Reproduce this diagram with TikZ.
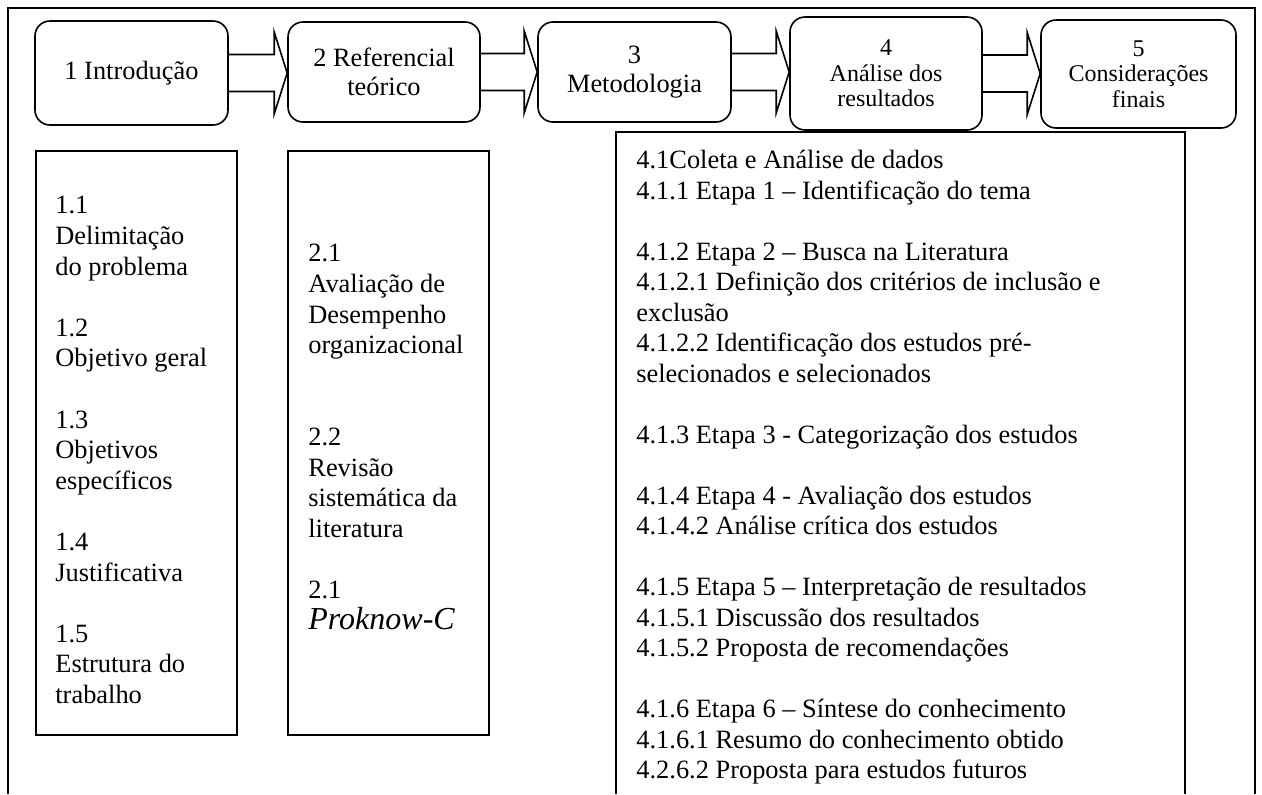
\documentclass[tikz,border=0pt]{standalone}
\usepackage{fontspec}
\setmainfont{Liberation Serif}
\usetikzlibrary{calc, positioning}

\tikzset{
  boxline/.style={line width=0.8pt, draw=black},
  stage/.style={draw, line width=0.8pt, rounded corners=7.5pt, align=center, inner sep=2pt, font=\fontsize{13.2}{14.5}\selectfont},
  stagesmall/.style={stage, font=\fontsize{12}{12.8}\selectfont},
  topicbox/.style={draw, line width=0.8pt, inner sep=0pt, minimum width=100.5pt, minimum height=292pt, anchor=north west},
  topictext/.style={anchor=north west, align=left, inner sep=0pt, font=\fontsize{13.2}{15.3}\selectfont},
}

% hollow block arrow between two stages
\newcommand{\flowarrow}[2]{%
  \coordinate (tip) at (#1.east -| #2.west);
  \draw[boxline] ($(#1.east)+(0,-18.5)$) -- ($(tip)+(-13,-18.5)$) -- ($(tip)+(-13,-41)$) -- (tip)
    -- ($(tip)+(-13,41)$) -- ($(tip)+(-13,18.5)$) -- ($(#1.east)+(0,18.5)$);
}

\begin{document}
\begin{tikzpicture}[x=0.5pt, y=-0.5pt]
  \useasboundingbox (0,0) rectangle (1262,794);

  % outer frame (open at the bottom)
  \draw[boxline] (8,794) -- (8,8) -- (1255,8) -- (1255,794);

  % chapters
  \node[stage, minimum width=96.5pt, minimum height=52pt] (intro) at (131.5,73) {1 Introdução};
  \node[stage, minimum width=96pt, minimum height=50pt] (refer) at (384,72) {2 Referencial\\teórico};
  \node[stage, minimum width=96.5pt, minimum height=50pt] (metod) at (634.5,72) {3\\Metodologia};
  \node[stagesmall, minimum width=96pt, minimum height=56.5pt] (anal) at (886,73.5) {4\\Análise dos\\resultados};
  \node[stagesmall, minimum width=97.5pt, minimum height=54pt] (final) at (1138.5,74) {5\\Considerações\\finais};

  \flowarrow{intro}{refer}
  \flowarrow{refer}{metod}
  \flowarrow{metod}{anal}
  \flowarrow{anal}{final}

  % sections of chapter 1
  \node[topicbox] (introbox) at (35,150) {};
  \node[topictext] (introtext) at (55,196) {
    1.1\\Delimitação\\do problema\\[15.3pt]
    1.2\\Objetivo geral\\[15.3pt]
    1.3\\Objetivos\\específicos\\[15.3pt]
    1.4\\Justificativa\\[15.3pt]
    1.5\\Estrutura do\\trabalho
  };

  % sections of chapter 2
  \node[topicbox] (referbox) at (287,150) {};
  \node[topictext] (refertext) at (308,244) {
    2.1\\Avaliação de\\Desempenho\\organizacional\\[30.6pt]
    2.2\\Revisão\\sistemática da\\literatura\\[15.3pt]
    2.1\\{\fontsize{16}{18}\selectfont\itshape Proknow-C}
  };

  % steps of chapter 4 (open at the bottom)
  \draw[boxline] (616,794) -- (616,132) -- (1185,132) -- (1185,794);
  \node[topictext, font=\fontsize{13.2}{15.25}\selectfont] (etapas) at (636,150) {
    4.1Coleta e Análise de dados\\
    4.1.1 Etapa 1 – Identificação do tema\\[15.25pt]
    4.1.2 Etapa 2 – Busca na Literatura\\
    4.1.2.1 Definição dos critérios de inclusão e\\
    exclusão\\
    4.1.2.2 Identificação dos estudos pré-\\
    selecionados e selecionados\\[15.25pt]
    4.1.3 Etapa 3 - Categorização dos estudos\\[15.25pt]
    4.1.4 Etapa 4 - Avaliação dos estudos\\
    4.1.4.2 Análise crítica dos estudos\\[15.25pt]
    4.1.5 Etapa 5 – Interpretação de resultados\\
    4.1.5.1 Discussão dos resultados\\
    4.1.5.2 Proposta de recomendações\\[15.25pt]
    4.1.6 Etapa 6 – Síntese do conhecimento\\
    4.1.6.1 Resumo do conhecimento obtido\\
    4.2.6.2 Proposta para estudos futuros
  };
\end{tikzpicture}
\end{document}
